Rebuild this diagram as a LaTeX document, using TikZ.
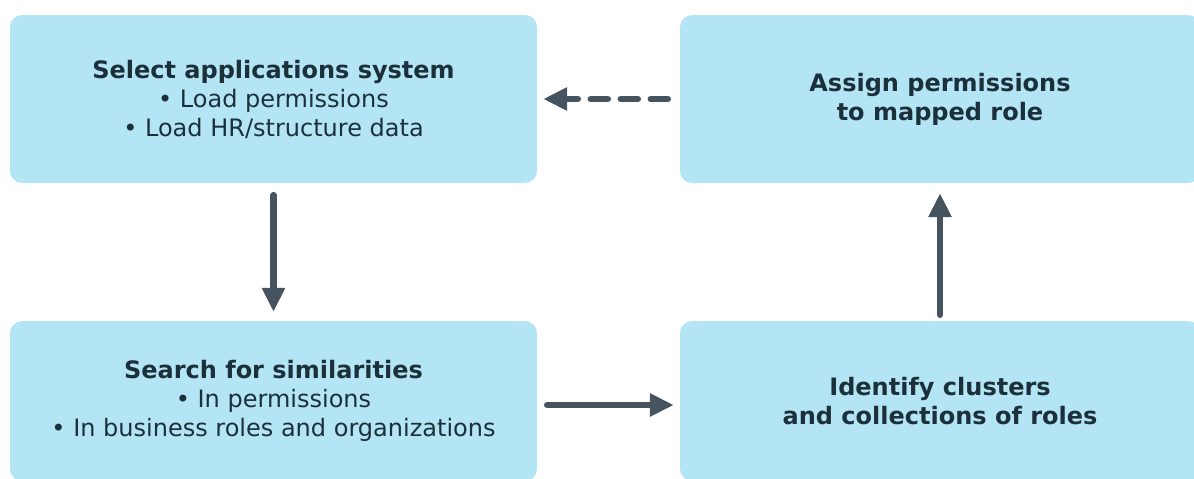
\documentclass[tikz,border=0pt]{standalone}
\usepackage{fontspec}
\setmainfont{DejaVu Sans}
\usepackage{tikz}
\usetikzlibrary{arrows.meta,positioning}
\definecolor{boxblue}{RGB}{179,229,244}
\definecolor{textdark}{RGB}{28,48,60}
\definecolor{arrowgray}{RGB}{69,84,94}
\tikzset{
  stagebox/.style={fill=boxblue, rounded corners=12pt, align=center,
    text=textdark, minimum width=527pt, minimum height=168pt,
    font=\fontsize{24}{29}\selectfont, inner sep=0pt},
  flowarrow/.style={draw=arrowgray, line width=6.5pt, line cap=round,
    -{Triangle[width=22pt,length=24pt]}},
  backarrow/.style={flowarrow, dash pattern=on 17pt off 13pt}
}

\begin{document}
\begin{tikzpicture}[x=1pt,y=-1pt]
\useasboundingbox (0,0) rectangle (1194,479);
\begin{scope}
\clip (0,0) rectangle (1194,479);
% the four stages
\node[stagebox] (select) at (273.5,99)
  {\textbf{Select applications system}\\ • Load permissions\\ • Load HR/structure data};
\node[stagebox, minimum width=520pt] (assign) at (940,99)
  {\textbf{Assign permissions}\\ \textbf{to mapped role}};
\node[stagebox, minimum height=160pt] (search) at (273.5,401)
  {\textbf{Search for similarities}\\ • In permissions\\ • In business roles and organizations};
\node[stagebox, minimum width=520pt, minimum height=160pt] (identify) at (940,401)
  {\textbf{Identify clusters}\\ \textbf{and collections of roles}};
\end{scope}

% connectors
\draw[flowarrow, shorten <=12pt, shorten >=9pt] (select.south) -- (search.north);
\draw[flowarrow, shorten <=10pt, shorten >=6pt] ([yshift=-4pt]search.east) -- ([yshift=-4pt]identify.west);
\draw[flowarrow, shorten <=6pt, shorten >=10pt] (identify.north) -- (assign.south);
\draw[backarrow, shorten <=12pt, shorten >=6pt] (assign.west) -- (select.east);
\end{tikzpicture}
\end{document}
